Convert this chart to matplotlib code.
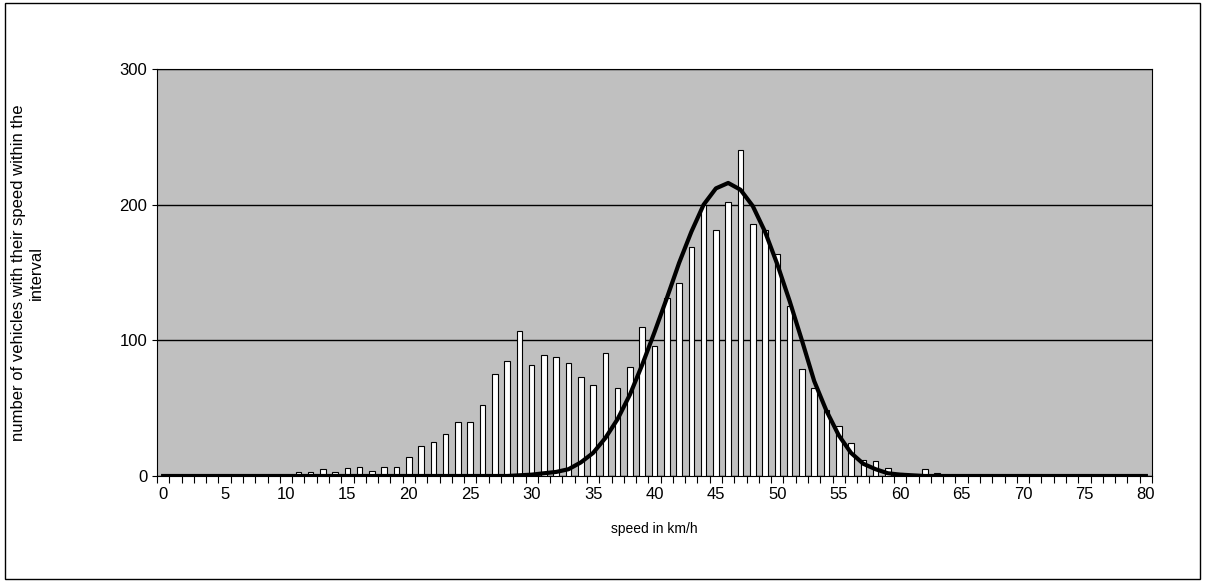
import matplotlib
matplotlib.use("Agg")
import matplotlib.pyplot as plt
import numpy as np

speeds = list(range(0, 81))
counts = [0]*11 + [3,3,5,3,6,7,4,7,7,14,22,25,31,40,40,52,75,85,107,82,89,88,83,73,67,91,65,80,110,96,
          131,142,169,200,181,202,240,186,181,164,125,79,65,49,37,24,12,11,6,2,1,5,2,1] + [0]*16
fit = [0]*29 + [0.5,1,2,3,5,10,17,28,42,60,82,106,131,157,180,200,212,216,211,199,180,156,129,100,70,48,30,17,9,5,2,1,0.5] + [0]*19
xticklabels = [str(v) if v % 5 == 0 else "" for v in speeds]

plt.rcParams['font.family'] = ['Liberation Sans', 'DejaVu Sans']
fig = plt.figure(figsize=(12.06, 5.82), dpi=100)
fig.patches.append(plt.Rectangle((0.004, 0.005), 0.991, 0.99, transform=fig.transFigure,
                                 fill=False, edgecolor='black', linewidth=1))
ax = fig.add_axes([157/1206, 1-476/582, (1152-157)/1206, (476-69)/582])
ax.set_facecolor('#c0c0c0')
ax.bar(speeds, counts, width=0.45, color='white', edgecolor='black', linewidth=0.8, zorder=3)
ax.plot(speeds, fit, color='black', linewidth=3, zorder=4)
ax.set_xlim(-0.5, 80.5)
ax.set_ylim(0, 300)
ax.set_yticks([0, 100, 200, 300])
ax.yaxis.grid(True, color='black', linewidth=1, zorder=1)
ax.set_axisbelow(True)
ax.set_xticks(np.arange(-0.5, 81, 1))
ax.set_xticklabels([])
ax.set_xticks(speeds, minor=True)
ax.set_xticklabels(xticklabels, minor=True, fontsize=12)
ax.tick_params(axis='x', which='minor', length=0, pad=8)
ax.tick_params(axis='x', which='major', length=5, direction='out')
ax.tick_params(axis='y', labelsize=12)
for s in ax.spines.values():
    s.set_color('black')
ax.set_xlabel('speed in km/h', fontsize=10, labelpad=14)
ax.yaxis.set_label_coords(-0.114, 0.5)
ax.set_ylabel('number of vehicles with their speed within the\ninterval', fontsize=12)
fig.savefig('out.png', dpi=100)
